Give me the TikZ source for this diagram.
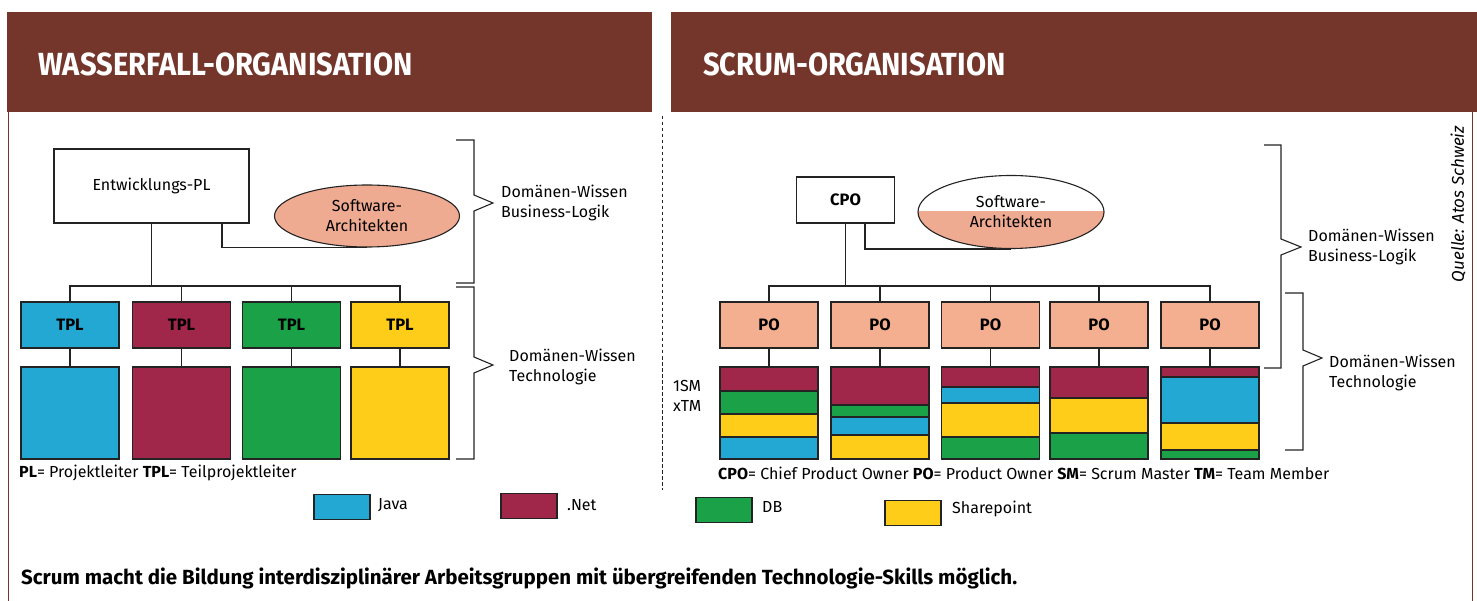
\documentclass[tikz,border=0pt]{standalone}
\usepackage{fontspec}
\setmainfont{Fira Sans}
\newfontfamily\headfont{Fira Sans}[FakeStretch=0.91]
\usetikzlibrary{shapes.geometric,backgrounds}
\definecolor{brownbar}{RGB}{116,54,43}
\definecolor{java}{RGB}{34,168,210}
\definecolor{dotnet}{RGB}{160,38,74}
\definecolor{db}{RGB}{27,161,72}
\definecolor{sp}{RGB}{253,205,26}
\definecolor{pofill}{RGB}{244,174,144}
\definecolor{archfill}{RGB}{239,170,146}
\definecolor{edge}{RGB}{35,35,35}
\newcommand{\band}[4]{\filldraw[fill=#4, draw=edge, line width=1.1pt] (#1-49,#2) rectangle (#1+49,#3);}
\begin{document}
\begin{tikzpicture}[x=1pt,y=-1pt,
  every node/.style={font=\fontsize{16}{20}\selectfont, inner sep=0pt, text=black},
  box/.style={draw=edge, line width=1.1pt, minimum width=98pt, minimum height=46pt},
  lbl/.style={font=\fontsize{16.5}{20}\selectfont\bfseries},
  conn/.style={draw=edge, line width=1.1pt},
  brace/.style={draw=edge, line width=1.1pt},
  archnode/.style={ellipse, draw=edge, line width=1.1pt, align=center},
  note/.style={anchor=west, align=left},
  legbox/.style={draw=edge, line width=1.1pt, minimum width=56pt, minimum height=25pt},
  head/.style={anchor=west, text=white, font=\headfont\fontsize{32}{34}\selectfont\bfseries}]
\useasboundingbox (0,0) rectangle (1477,601);

% frame and header bars
\draw[brownbar, line width=1pt] (8,112) -- (8,601);
\draw[brownbar, line width=1pt] (1472,112) -- (1472,601);
\fill[brownbar] (7,12) rectangle (652,112);
\fill[brownbar] (671,12) rectangle (1477,112);
\node[head] (h1) at (38,64) {WASSERFALL-ORGANISATION};
\node[head] (h2) at (703,64) {SCRUM-ORGANISATION};
\draw[edge, line width=0.9pt, dash pattern=on 3.5pt off 2.5pt] (662,116) -- (662,490);

% ---------- waterfall organisation ----------
\node[box, minimum width=195pt, minimum height=74pt] (epl) at (151.5,186) {Entwicklungs-PL};
\node[archnode, fill=archfill, minimum width=185pt, minimum height=62pt] (sa1) at (367,216) {Software-\\Architekten};
\coordinate (hub1) at (151.5,286);
\foreach \i/\x/\c in {1/70/java,2/181.5/dotnet,3/291.5/db,4/400/sp}{
  \node[box, fill=\c, lbl] (tpl\i) at (\x,325) {TPL};
  \node[box, fill=\c, minimum height=92pt] (big\i) at (\x,413) {};
}
\node[note] (plnote) at (19,473) {\textbf{PL}= Projektleiter \textbf{TPL}= Teilprojektleiter};

\begin{pgfonlayer}{background}
  \draw[conn] (epl.south) -- (hub1);
  \draw[conn] (tpl1.north) |- (hub1) -| (tpl4.north);
  \draw[conn] (tpl2.north) -- (tpl2.north |- hub1);
  \draw[conn] (tpl3.north) -- (tpl3.north |- hub1);
  \foreach \i in {1,...,4}{\draw[conn] (tpl\i) -- (big\i);}
  \draw[conn] (222,223) |- (sa1.south);
\end{pgfonlayer}

\draw[brace] (456,140) -- (474,140) -- (474,195) -- (493,203) -- (474,211) -- (474,283) -- (456,283);
\draw[brace] (456,287) -- (474,287) -- (474,357) -- (493,365) -- (474,373) -- (474,459) -- (456,459);
\node[note] (bl1) at (501,203) {Domänen-Wissen\\Business-Logik};
\node[note] (tl1) at (509,367) {Domänen-Wissen\\Technologie};

% ---------- scrum organisation ----------
\node[box, lbl] (cpo) at (845.5,200) {CPO};
\fill[white] (1011,212) ellipse [x radius=93pt, y radius=36.5pt];
\begin{scope}
  \clip (900,212) rectangle (1120,260);
  \fill[archfill] (1011,212) ellipse [x radius=93pt, y radius=36.5pt];
\end{scope}
\node[archnode, minimum width=186pt, minimum height=73pt] (sa2) at (1011,212) {Software-\\Architekten};
\coordinate (hub2) at (845.5,286);

\foreach \i/\x in {1/769,2/880,3/990.5,4/1099,5/1210}{
  \node[box, fill=pofill, lbl] (po\i) at (\x,325) {PO};
}
% team stacks, top to bottom
\band{769}{367}{391}{dotnet}\band{769}{391}{414}{db}\band{769}{414}{437}{sp}\band{769}{437}{459}{java}
\band{880}{367}{405}{dotnet}\band{880}{405}{417}{db}\band{880}{417}{435}{java}\band{880}{435}{459}{sp}
\band{990.5}{367}{387}{dotnet}\band{990.5}{387}{403}{java}\band{990.5}{403}{437}{sp}\band{990.5}{437}{459}{db}
\band{1099}{367}{398}{dotnet}\band{1099}{398}{433}{sp}\band{1099}{433}{459}{db}
\band{1210}{367}{377}{dotnet}\band{1210}{377}{423}{java}\band{1210}{423}{450}{sp}\band{1210}{450}{459}{db}
\foreach \i/\x in {1/769,2/880,3/990.5,4/1099,5/1210}{
  \node[box, minimum height=92pt] (st\i) at (\x,413) {};
}
\node[note] (smtm) at (673,396) {1SM\\xTM};
\node[note] (cponote) at (718,473) {\textbf{CPO}= Chief Product Owner \textbf{PO}= Product Owner \textbf{SM}= Scrum Master \textbf{TM}= Team Member};

\begin{pgfonlayer}{background}
  \draw[conn] (cpo.south) -- (hub2);
  \draw[conn] (po1.north) |- (hub2) -| (po5.north);
  \foreach \i in {2,3,4}{\draw[conn] (po\i.north) -- (po\i.north |- hub2);}
  \foreach \i in {1,...,5}{\draw[conn] (po\i) -- (st\i);}
  \draw[conn] (865,223) |- (sa2.south);
\end{pgfonlayer}

\draw[brace] (1264,145) -- (1281,145) -- (1281,239) -- (1301,247) -- (1281,255) -- (1281,368) -- (1264,368);
\draw[brace] (1285,293) -- (1303,293) -- (1303,350) -- (1322,358) -- (1303,366) -- (1303,450) -- (1285,450);
\node[note] (bl2) at (1308,247) {Domänen-Wissen\\Business-Logik};
\node[note] (tl2) at (1329,373) {Domänen-Wissen\\Technologie};
\node[rotate=90, font=\fontsize{17}{19}\selectfont\itshape] (src) at (1458,204) {Quelle: Atos Schweiz};

% ---------- colour legend ----------
\node[legbox, fill=java] (lj) at (342,507) {};
\node[note] (ljt) at (378,505) {Java};
\node[legbox, fill=dotnet] (ln) at (529,506) {};
\node[note] (lnt) at (567,505) {.Net};
\node[legbox, fill=db] (ld) at (724,510) {};
\node[note] (ldt) at (762,507) {DB};
\node[legbox, fill=sp] (ls) at (913,513) {};
\node[note] (lst) at (952,509) {Sharepoint};

\node[note, font=\fontsize{20.5}{22}\selectfont\bfseries] (summary) at (21,578) {Scrum macht die Bildung interdisziplinärer Arbeitsgruppen mit übergreifenden Technologie-Skills möglich.};
\end{tikzpicture}
\end{document}
